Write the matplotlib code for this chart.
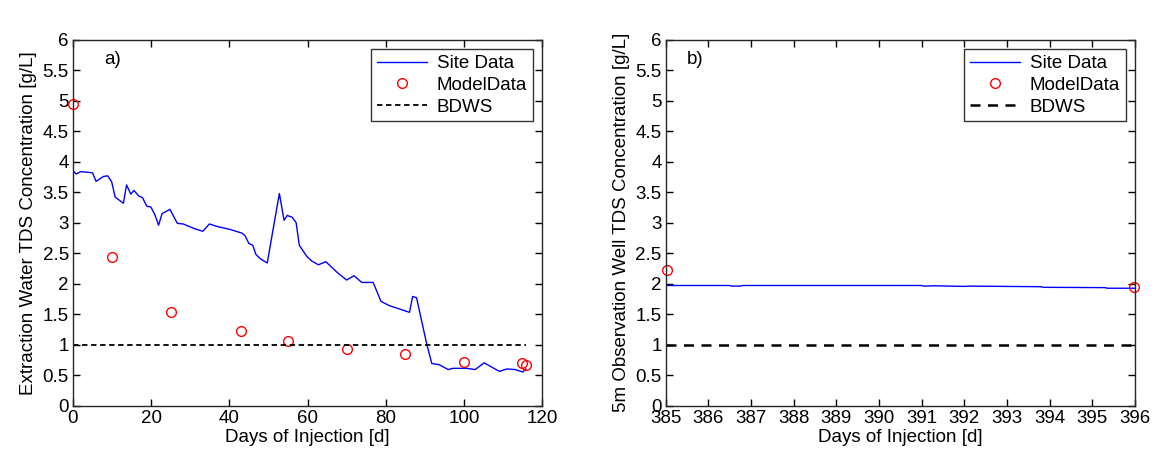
import matplotlib
matplotlib.use("Agg")
import matplotlib.pyplot as plt

plt.rcParams['font.family'] = ['Liberation Sans', 'DejaVu Sans']

# ---- Panel a) data ----
site_a_days = [0.1, 0.8, 2.0, 5.0, 5.9, 7.8, 8.9, 9.9, 10.8, 12.9, 13.7, 14.8, 15.6,
               16.8, 17.8, 18.9, 19.9, 20.9, 21.9, 22.8, 24.8, 26.7, 28.2, 31.2, 33.2,
               34.9, 36.8, 40.2, 43.2, 44.0, 45.0, 46.0, 46.8, 47.9, 49.7, 52.8, 54.0,
               54.8, 56.1, 57.1, 57.9, 59.8, 61.1, 62.8, 64.7, 67.5, 70.0, 71.9, 73.9,
               76.8, 78.8, 80.9, 86.1, 86.9, 87.9, 90.5, 91.8, 93.7, 96.0, 97.2, 99.4,
               100.7, 102.9, 105.2, 109.1, 111.0, 113.1, 115.1, 115.9]
site_a_tds = [3.85, 3.80, 3.84, 3.82, 3.68, 3.76, 3.77, 3.67, 3.42, 3.32, 3.62, 3.47, 3.53,
              3.44, 3.41, 3.27, 3.26, 3.14, 2.96, 3.15, 3.22, 2.99, 2.98, 2.90, 2.86,
              2.98, 2.94, 2.89, 2.83, 2.79, 2.66, 2.63, 2.48, 2.41, 2.34, 3.48, 3.04,
              3.12, 3.09, 3.00, 2.63, 2.45, 2.37, 2.31, 2.36, 2.19, 2.06, 2.13, 2.02,
              2.02, 1.71, 1.64, 1.53, 1.79, 1.77, 1.01, 0.69, 0.67, 0.59, 0.61, 0.61,
              0.61, 0.59, 0.70, 0.56, 0.60, 0.59, 0.55, 0.60]
model_a_days = [0, 10, 25, 43, 55, 70, 85, 100, 115, 116]
model_a_tds = [4.95, 2.43, 1.53, 1.22, 1.06, 0.93, 0.85, 0.72, 0.70, 0.66]
bdws_a_days = [0, 116]
bdws_value = [1.0, 1.0]

# ---- Panel b) data ----
site_b_days = [385.0, 385.05, 386.5, 386.55, 386.75, 386.8, 391.0, 391.05, 391.3,
               392.0, 392.1, 393.8, 393.85, 395.3, 395.35, 396.0]
site_b_tds = [1.98, 1.97, 1.97, 1.96, 1.96, 1.97, 1.97, 1.96, 1.965,
              1.955, 1.96, 1.95, 1.94, 1.935, 1.925, 1.925]
model_b_days = [385.03, 395.97]
model_b_tds = [2.22, 1.94]
bdws_b_days = [385, 396]

xticks_a = [0, 20, 40, 60, 80, 100, 120]
xticks_b = list(range(385, 397))
yticks = [0, 0.5, 1, 1.5, 2, 2.5, 3, 3.5, 4, 4.5, 5, 5.5, 6]
ytick_labels = ['0', '0.5', '1', '1.5', '2', '2.5', '3', '3.5', '4', '4.5', '5', '5.5', '6']

W, H = 1162, 457
fig = plt.figure(figsize=(W / 100, H / 100), dpi=100)

FS = 13.5

def style_axes(ax):
    ax.tick_params(direction='in', top=True, right=True, labelsize=FS, length=5,
                   width=1, pad=3)
    for s in ax.spines.values():
        s.set_linewidth(1.0)
        s.set_color('#262626')
    ax.set_ylim(0, 6)
    ax.set_yticks(yticks)
    ax.set_yticklabels(ytick_labels)

ax1 = fig.add_axes([73 / W, 1 - 405.5 / H, (542 - 73) / W, (405.5 - 40) / H])
ax1.plot(site_a_days, site_a_tds, color='#0000ff', lw=1.0, label='Site Data')
ax1.plot(model_a_days, model_a_tds, 'o', mfc='none', mec='#ff0000', ms=7, mew=1.0,
         label='ModelData', clip_on=False)
ax1.plot(bdws_a_days, bdws_value, '--', color='black', lw=1.3, dashes=(3, 2),
         label='BDWS')
ax1.set_xlim(0, 120)
ax1.set_xticks(xticks_a)
style_axes(ax1)
ax1.set_xlabel('Days of Injection [d]', fontsize=FS, labelpad=2)
ax1.set_ylabel('Extraction Water TDS Concentration [g/L]', fontsize=FS, labelpad=4)
ax1.text(8, 5.6, 'a)', fontsize=FS)
leg1 = ax1.legend(loc='upper right', fontsize=FS, frameon=True, fancybox=False,
                  edgecolor='black', borderpad=0.3, labelspacing=0.25,
                  handlelength=2.7, handletextpad=0.5, borderaxespad=0.5)
leg1.get_frame().set_linewidth(1.0)

ax2 = fig.add_axes([665.7 / W, 1 - 405.5 / H, (1135 - 665.7) / W, (405.5 - 40) / H])
ax2.plot(site_b_days, site_b_tds, color='#0000ff', lw=1.0, label='Site Data')
ax2.plot(model_b_days, model_b_tds, 'o', mfc='none', mec='#ff0000', ms=7, mew=1.0,
         label='ModelData', clip_on=False)
ax2.plot(bdws_b_days, bdws_value, '--', color='black', lw=1.8, dashes=(4, 3),
         label='BDWS')
ax2.set_xlim(385, 396)
ax2.set_xticks(xticks_b)
style_axes(ax2)
ax2.set_xlabel('Days of Injection [d]', fontsize=FS, labelpad=2)
ax2.set_ylabel('5m Observation Well TDS Concentration [g/L]', fontsize=FS, labelpad=4)
ax2.text(385.5, 5.6, 'b)', fontsize=FS)
leg2 = ax2.legend(loc='upper right', fontsize=FS, frameon=True, fancybox=False,
                  edgecolor='black', borderpad=0.3, labelspacing=0.25,
                  handlelength=2.7, handletextpad=0.5, borderaxespad=0.5)
leg2.get_frame().set_linewidth(1.0)

fig.savefig('out.png', dpi=100, facecolor='white')
